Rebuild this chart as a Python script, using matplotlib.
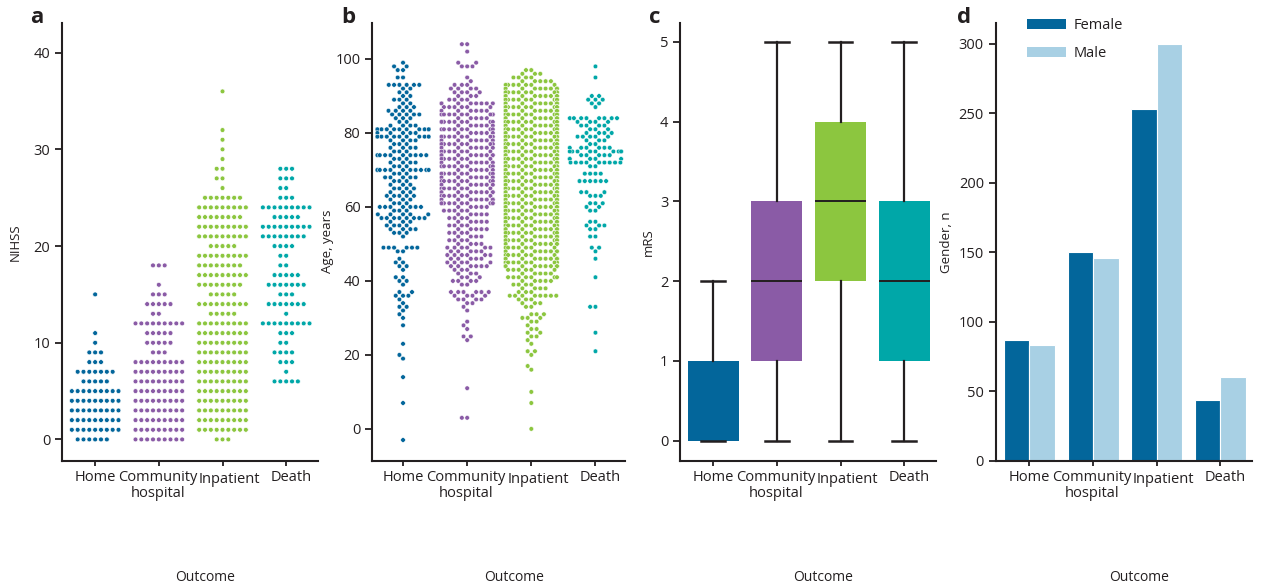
import matplotlib
matplotlib.use('Agg')
import matplotlib.pyplot as plt
import matplotlib.transforms as mtransforms
import numpy as np
import pandas as pd
import seaborn as sns
from matplotlib.patches import Patch

outcomes = ['Home', 'Community\nhospital', 'Inpatient', 'Death']
colors = ['#03669B', '#8A5BA6', '#8CC63F', '#00A7A8']
female_color = '#03669B'
male_color = '#A8D0E4'
ink = '#231F20'

# panel a: NIHSS score -> number of dots
nihss_home = {0: 6, 1: 9, 2: 9, 3: 9, 4: 9, 5: 9, 6: 5, 7: 7, 8: 3, 9: 3,
              10: 1, 11: 1, 15: 1}
nihss_comm = {0: 9, 1: 9, 2: 9, 3: 9, 4: 9, 5: 9, 6: 9, 7: 9, 8: 9, 9: 3,
              10: 5, 11: 5, 12: 9, 13: 2, 14: 5, 15: 3, 16: 1, 18: 3}
nihss_inpt = {0: 3, 1: 9, 2: 9, 3: 9, 4: 9, 5: 9, 6: 9, 7: 9, 8: 9, 9: 9,
              10: 9, 11: 9, 12: 9, 13: 5, 14: 9, 15: 5, 16: 8, 17: 9, 18: 8,
              19: 9, 20: 5, 21: 9, 22: 9, 23: 8, 24: 9, 25: 7, 26: 1, 27: 2,
              28: 2, 29: 1, 30: 1, 31: 1, 32: 1, 36: 1}
nihss_death = {6: 5, 7: 1, 8: 3, 9: 4, 10: 2, 11: 3, 12: 9, 13: 1, 14: 7,
               15: 3, 16: 7, 17: 5, 18: 2, 19: 2, 20: 4, 21: 8, 22: 9, 23: 5,
               24: 9, 25: 3, 26: 2, 27: 3, 28: 3}

# panel b: age (years) -> number of dots
age_home = {99: 1, 98: 2, 97: 2, 95: 2, 93: 6, 92: 2, 91: 2, 90: 2, 89: 3,
            88: 2, 87: 3, 86: 4, 85: 5, 84: 3, 83: 2, 82: 4, 81: 12, 80: 5,
            79: 11, 78: 4, 77: 3, 76: 4, 75: 3, 74: 9, 73: 3, 72: 4, 71: 3,
            70: 11, 69: 3, 68: 5, 67: 3, 66: 3, 65: 4, 64: 3, 63: 5, 62: 3,
            61: 3, 60: 7, 59: 3, 58: 5, 57: 8, 56: 3, 55: 4, 54: 4, 53: 3,
            52: 1, 49: 6, 48: 2, 46: 1, 45: 2, 44: 2, 43: 1, 41: 2, 40: 2,
            39: 1, 37: 2, 36: 3, 35: 1, 34: 1, 33: 2, 32: 1, 31: 1, 30: 1,
            28: 1, 23: 1, 20: 1, 19: 1, 14: 1, 7: 1, -3: 1}
age_comm = {104: 2, 102: 1, 99: 2, 98: 3, 95: 1, 94: 1, 93: 3, 92: 4, 91: 4,
            90: 3, 89: 4, 88: 8, 87: 6, 86: 6, 85: 10, 84: 5, 83: 9, 82: 6,
            81: 8, 80: 6, 79: 11, 78: 7, 77: 9, 76: 7, 75: 8, 74: 10, 73: 7,
            72: 7, 71: 8, 70: 6, 69: 9, 68: 7, 67: 8, 66: 7, 65: 8, 64: 10,
            63: 7, 62: 10, 61: 11, 60: 5, 59: 5, 58: 5, 57: 4, 56: 5, 55: 4,
            54: 5, 53: 4, 52: 4, 51: 4, 50: 4, 49: 6, 48: 5, 47: 6, 46: 5,
            45: 5, 44: 6, 43: 3, 42: 3, 41: 3, 40: 4, 39: 2, 37: 6, 36: 4,
            35: 4, 34: 2, 33: 1, 32: 1, 29: 1, 28: 1, 27: 1, 25: 2, 24: 1,
            11: 1, 3: 2}
age_inpt = {97: 2, 96: 3, 95: 4, 94: 5, 93: 7, 92: 9, 91: 11, 90: 12, 89: 12,
            88: 12, 87: 12, 86: 12, 85: 12, 84: 12, 83: 12, 82: 12, 81: 12,
            80: 12, 79: 12, 78: 12, 77: 12, 76: 12, 75: 12, 74: 12, 73: 12,
            72: 12, 71: 12, 70: 12, 69: 12, 68: 12, 67: 12, 66: 12, 65: 12,
            64: 12, 63: 12, 62: 12, 61: 12, 60: 12, 59: 12, 58: 12, 57: 12,
            56: 11, 55: 11, 54: 12, 53: 8, 52: 8, 51: 10, 50: 8, 49: 7, 48: 8,
            47: 7, 46: 10, 45: 9, 44: 12, 43: 6, 42: 5, 41: 7, 40: 5, 39: 4,
            38: 4, 37: 3, 36: 8, 35: 3, 34: 3, 33: 2, 31: 3, 30: 3, 29: 2,
            28: 1, 27: 2, 26: 2, 25: 2, 24: 1, 23: 1, 21: 2, 20: 1, 17: 1,
            16: 1, 10: 1, 7: 1, 0: 1}
age_death = {98: 1, 95: 1, 90: 2, 89: 3, 88: 2, 87: 1, 84: 8, 83: 4, 82: 4,
             81: 3, 80: 4, 79: 5, 78: 3, 77: 2, 76: 6, 75: 9, 74: 5, 73: 5,
             72: 9, 71: 2, 69: 4, 67: 6, 64: 3, 63: 3, 61: 3, 60: 2, 59: 2,
             56: 2, 55: 3, 54: 2, 52: 2, 49: 2, 48: 1, 46: 1, 41: 1, 33: 2,
             26: 1, 21: 1}

# panel c: mRS box summaries per outcome
mrs_q1 = [0, 1, 2, 1]
mrs_med = [1, 2, 3, 2]
mrs_q3 = [1, 3, 4, 3]
mrs_lo = [0, 0, 0, 0]
mrs_hi = [2, 5, 5, 5]

# panel d: gender counts
female_n = [87, 150, 253, 44]
male_n = [83, 146, 300, 60]

plt.rcParams['font.family'] = ['Open Sans', 'DejaVu Sans']
plt.rcParams['text.color'] = ink
plt.rcParams['axes.labelcolor'] = ink

# the original nudges the crowded tick labels apart (pixels: right, down)
label_nudge = [(0, 0), (-1, 0), (7, 2), (5, 0)]


def long_table(tables, col):
    rows = []
    for name, tab in zip(outcomes, tables):
        for v, n in tab.items():
            rows += [(name, v)] * n
    return pd.DataFrame(rows, columns=['Outcome', col])


def style(ax, ylabel, label_x):
    for s in ['top', 'right']:
        ax.spines[s].set_visible(False)
    for s in ['left', 'bottom']:
        ax.spines[s].set_linewidth(1.5)
        ax.spines[s].set_color(ink)
    ax.tick_params(axis='y', length=5, width=1.3, pad=3.5, labelsize=10.5,
                   colors=ink)
    ax.tick_params(axis='x', length=3.5, width=1.3, pad=3, labelsize=10.5,
                   colors=ink)
    ax.set_xticks(range(4))
    ax.set_xticklabels(outcomes, linespacing=1.1)
    for lab, (dx, dy) in zip(ax.get_xticklabels(), label_nudge):
        shift = mtransforms.ScaledTranslation(dx / 100, -dy / 100,
                                              fig.dpi_scale_trans)
        lab.set_transform(lab.get_transform() + shift)
    ax.set_xlim(-0.52, 3.5)
    ax.set_xlabel('Outcome', fontsize=10)
    ax.xaxis.set_label_coords(0.56, -0.25)
    ax.set_ylabel(ylabel, fontsize=9.5)
    ax.yaxis.set_label_coords(label_x, 0.5)


fig = plt.figure(figsize=(12.61, 5.86), dpi=100)
bottom, height = 0.2138, 0.7474
ax_a = fig.add_axes([0.0492, bottom, 0.2030, height])
ax_b = fig.add_axes([0.2952, bottom, 0.2004, height])
ax_c = fig.add_axes([0.5393, bottom, 0.2030, height])
ax_d = fig.add_axes([0.7896, bottom, 0.2030, height])

# a: NIHSS swarm
df_a = long_table([nihss_home, nihss_comm, nihss_inpt, nihss_death], 'NIHSS')
sns.swarmplot(data=df_a, x='Outcome', y='NIHSS', hue='Outcome', order=outcomes,
              hue_order=outcomes, palette=colors, size=3.5, linewidth=0.5,
              edgecolor='white', legend=False, warn_thresh=1, ax=ax_a)
style(ax_a, 'NIHSS', -0.156)
ax_a.set_ylim(-2.2, 43.1)
ax_a.set_yticks([0, 10, 20, 30, 40])

# b: age swarm
df_b = long_table([age_home, age_comm, age_inpt, age_death], 'Age')
sns.swarmplot(data=df_b, x='Outcome', y='Age', hue='Outcome', order=outcomes,
              hue_order=outcomes, palette=colors, size=3.3, linewidth=0.35,
              edgecolor='white', legend=False, warn_thresh=1, ax=ax_b)
style(ax_b, 'Age, years', -0.152)
ax_b.set_xlim(-0.48, 3.46)
ax_b.set_ylim(-8.6, 109.8)
ax_b.set_yticks([0, 20, 40, 60, 80, 100])

# c: mRS boxes
stats = [dict(q1=a, med=m, q3=b, whislo=lo, whishi=hi, fliers=[])
         for a, m, b, lo, hi in zip(mrs_q1, mrs_med, mrs_q3, mrs_lo, mrs_hi)]
bp = ax_c.bxp(stats, positions=range(4), widths=0.8, capwidths=0.37,
              patch_artist=True, showfliers=False,
              boxprops=dict(linewidth=0),
              whiskerprops=dict(color=ink, linewidth=1.6),
              capprops=dict(color=ink, linewidth=1.8),
              medianprops=dict(color=ink, linewidth=1.4))
for patch, c in zip(bp['boxes'], colors):
    patch.set_facecolor(c)
for line, st in zip(bp['medians'], stats):
    if st['med'] in (st['q1'], st['q3']):
        line.set_visible(False)
style(ax_c, 'mRS', -0.10)
ax_c.set_ylim(-0.25, 5.24)
ax_c.set_yticks(range(6))

# d: gender bars
x = np.arange(4)
ax_d.bar(x - 0.2, female_n, width=0.4, color=female_color, edgecolor='white',
         linewidth=0.8)
ax_d.bar(x + 0.2, male_n, width=0.4, color=male_color, edgecolor='white',
         linewidth=0.8)
style(ax_d, 'Gender, n', -0.167)
ax_d.set_xlim(-0.53, 3.49)
ax_d.set_ylim(0, 315)
ax_d.set_yticks(range(0, 301, 50))
ax_d.legend(handles=[Patch(facecolor=female_color, label='Female'),
                     Patch(facecolor=male_color, label='Male')],
            loc='upper left', bbox_to_anchor=(0.122, 1.01), frameon=False,
            fontsize=10.5, handlelength=2.7, handleheight=0.7,
            handletextpad=0.5, labelspacing=0.9, borderpad=0,
            borderaxespad=0)

for xpos, letter in [(0.024, 'a'), (0.271, 'b'), (0.515, 'c'), (0.759, 'd')]:
    fig.text(xpos, 0.961, letter, fontsize=16, fontweight='bold', va='baseline')

fig.savefig('out.png', dpi=100)
